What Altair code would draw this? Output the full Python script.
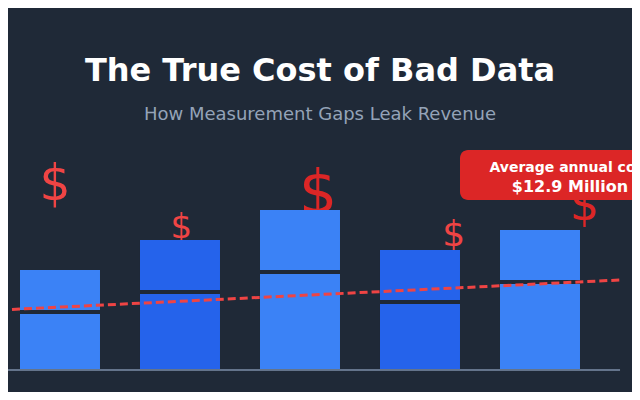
import altair as alt
import pandas as pd

BG = "#1f2937"

# --- data ---------------------------------------------------------------
stages = ["Collect", "Track", "Attribute", "Report", "Optimize"]
measured = [6.0, 8.0, 10.0, 7.0, 9.0]      # captured revenue ($M)
leaked = [4.0, 5.0, 6.0, 5.0, 5.0]         # leaked revenue ($M)
bar_colors = ["#3b82f6", "#2563eb", "#3b82f6", "#2563eb", "#3b82f6"]

coin_pos = [-0.04, 1.01, 2.15, 3.28, 4.37]   # floating "$" position (stage index)
coin_level = [17.0, 13.2, 15.7, 12.4, 15.0]  # floating "$" height ($M)
coin_size = [49, 34, 60, 36, 46]
coin_color = ["#ef4444", "#ef4444", "#dc2626", "#ef4444", "#dc2626"]

trend_x = [-0.5, 4.667]
trend_y = [6.0, 9.0]

title_text = "The True Cost of Bad Data"
subtitle_text = "How Measurement Gaps Leak Revenue"
callout_l1 = "Average annual cost"
callout_l2 = "$12.9 Million"

# --- tables ---------------------------------------------------------------
bars = pd.DataFrame({
    "stage": stages,
    "idx": list(range(len(stages))),
    "measured": measured,
    "leaked": leaked,
    "color": bar_colors,
})
bars["x0"] = bars["idx"] - 1 / 3
bars["x1"] = bars["idx"] + 1 / 3
bars["total"] = bars["measured"] + bars["leaked"]

coins = pd.DataFrame({"x": coin_pos, "y": coin_level, "size": coin_size,
                      "color": coin_color, "t": ["$"] * len(coin_pos)})
trend = pd.DataFrame({"x": trend_x, "y": trend_y})
axis_span = pd.DataFrame({"x0": [trend_x[0]], "x1": [trend_x[1]], "y": [0.0]})

W, H = 624, 384
xs = alt.Scale(domain=[-0.43333, 4.76667], nice=False, zero=False)
ys = alt.Scale(domain=[-2.2, 36.2], nice=False, zero=False)

coin_layer = alt.Chart(coins).mark_text(
    font="DejaVu Sans", baseline="alphabetic", align="center"
).encode(
    x=alt.X("x:Q", scale=xs, axis=None),
    y=alt.Y("y:Q", scale=ys, axis=None),
    text="t:N",
    size=alt.Size("size:Q", scale=None, legend=None),
    color=alt.Color("color:N", scale=None, legend=None),
)

lower = alt.Chart(bars).mark_rect(yOffset=4).encode(
    x=alt.X("x0:Q", scale=xs, axis=None),
    x2="x1:Q",
    y=alt.Y("measured:Q", scale=ys, axis=None),
    y2=alt.Y2("zero:Q"),
    color=alt.Color("color:N", scale=None, legend=None),
).transform_calculate(zero="0")

upper = alt.Chart(bars).mark_rect().encode(
    x=alt.X("x0:Q", scale=xs, axis=None),
    x2="x1:Q",
    y=alt.Y("total:Q", scale=ys, axis=None),
    y2="measured:Q",
    color=alt.Color("color:N", scale=None, legend=None),
)

baseline = alt.Chart(axis_span).mark_rule(color="#64748b", strokeWidth=2).encode(
    x=alt.X("x0:Q", scale=xs, axis=None),
    x2="x1:Q",
    y=alt.Y("y:Q", scale=ys, axis=None),
)

trend_line = alt.Chart(trend).mark_line(
    color="#ef4444", strokeWidth=3, strokeDash=[8, 4], clip=True
).encode(
    x=alt.X("x:Q", scale=xs, axis=None),
    y=alt.Y("y:Q", scale=ys, axis=None),
)

callout_box = alt.Chart(pd.DataFrame({"a": [0]})).mark_rect(
    color="#dc2626", cornerRadius=8
).encode(
    x=alt.value(452), x2=alt.value(672), y=alt.value(142), y2=alt.value(192)
)

def label(txt, x, y, size, color, weight):
    return alt.Chart(pd.DataFrame({"t": [txt]})).mark_text(
        font="DejaVu Sans", fontSize=size, fontWeight=weight, color=color,
        align="center", baseline="alphabetic"
    ).encode(text="t:N", x=alt.value(x), y=alt.value(y))

texts = [
    label(callout_l1, 562, 164, 14, "#ffffff", "bold"),
    label(callout_l2, 562, 184, 16, "#ffffff", "bold"),
    label(title_text, 312, 73, 32, "#ffffff", "bold"),
    label(subtitle_text, 312, 112, 18, "#94a3b8", "normal"),
]

chart = alt.layer(
    coin_layer, lower, upper, baseline, trend_line, callout_box, *texts
).properties(
    width=W, height=H, background=BG, padding=0,
    autosize=alt.AutoSizeParams(type="none"),
).configure_view(stroke=None)

chart.save("out.html", embed_options={"renderer": "svg", "actions": False})
